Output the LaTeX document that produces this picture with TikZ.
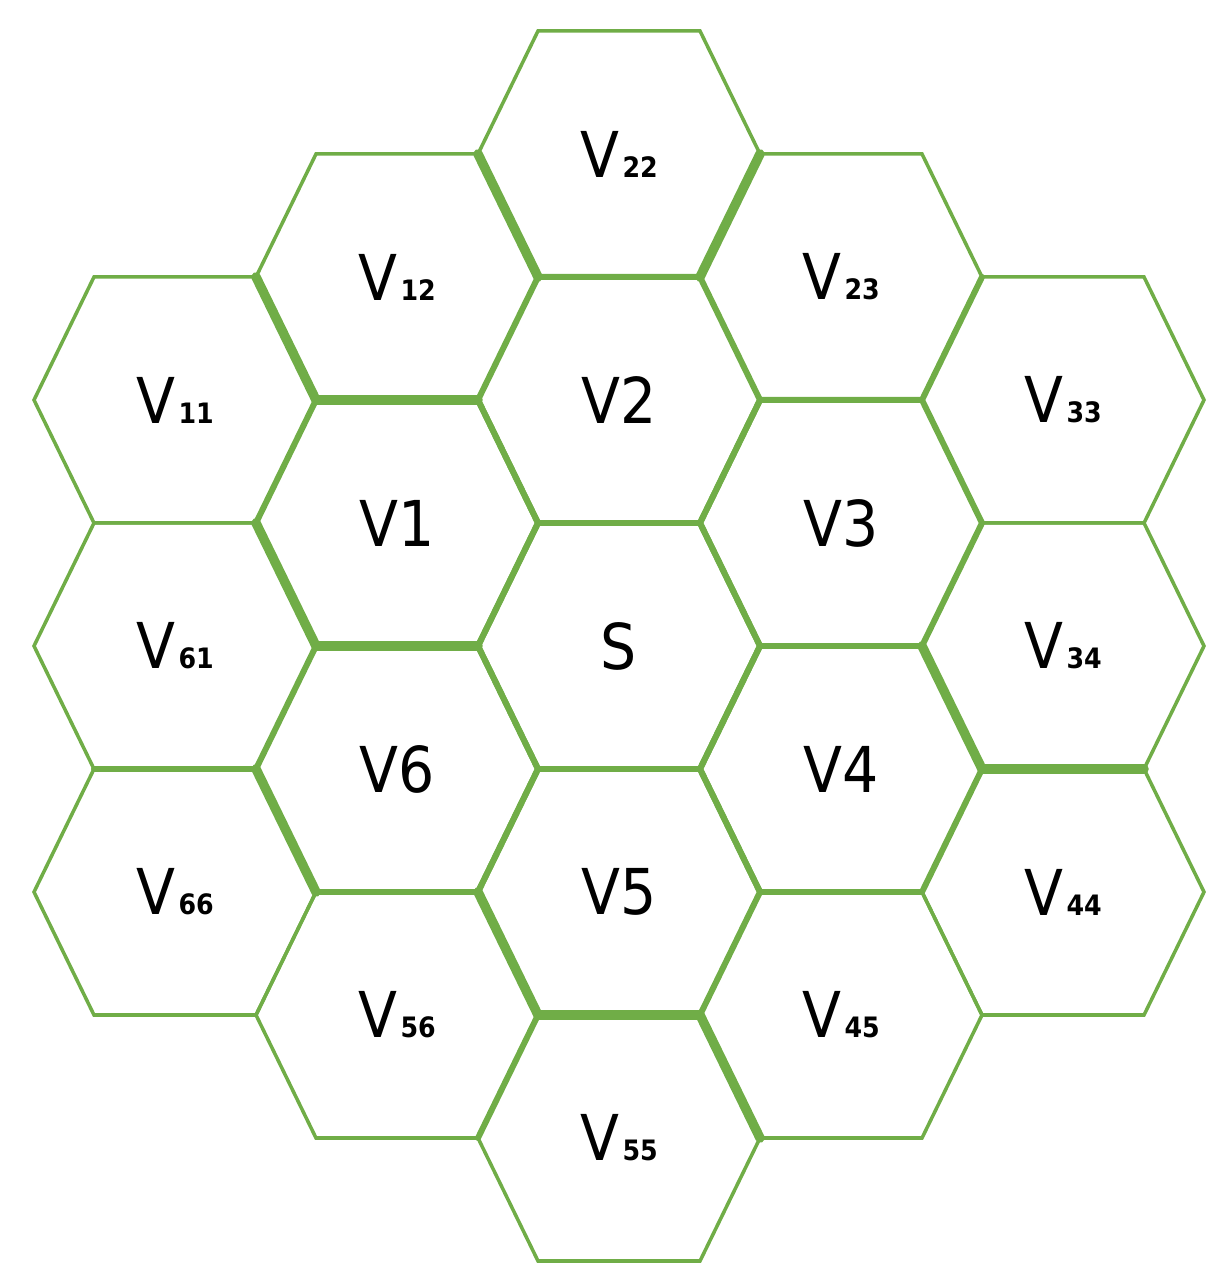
\documentclass[tikz,border=0pt]{standalone}
\usepackage{fontspec}
\setmainfont{DejaVu Sans Condensed}
\definecolor{hexgreen}{RGB}{112,173,71}
\newcommand{\cellsub}[1]{\kern1pt{\fontsize{8}{9}\selectfont\bfseries #1}}

\begin{document}
\begin{tikzpicture}[cell/.style = {font=\fontsize{18}{20}\selectfont, inner sep=0pt},
    rim/.style = {draw=hexgreen, line width=1pt},
    core/.style = {draw=hexgreen, line width=1.7pt},
    heavy/.style = {draw=hexgreen, line width=2.7pt, line cap=round}]
    \useasboundingbox (-6.19,-6.37) rectangle (6.08,6.46);
    % outer ring
    \foreach \n/\c/\k/\t in {V22/0/4/22, V23/1/3/23, V33/2/2/33, V34/2/0/34, V44/2/-2/44, V45/1/-3/45,
        V55/0/-4/55, V56/-1/-3/56, V66/-2/-2/66, V61/-2/0/61, V11/-2/2/11, V12/-1/3/12} {
        \node[cell] (\n) at (\c*2.22, \k*1.23) {V\cellsub{\t}};
        \draw[rim] ([shift={(-1.41,0)}]\n.center) -- ++(0.6,1.23) -- ++(1.62,0) -- ++(0.6,-1.23)
            -- ++(-0.6,-1.23) -- ++(-1.62,0) -- cycle;
    }
    % inner ring and centre
    \foreach \n/\c/\k/\t in {S/0/0/S, V1/-1/1/V1, V2/0/2/V2, V3/1/1/V3, V4/1/-1/V4, V5/0/-2/V5, V6/-1/-1/V6} {
        \node[cell] (\n) at (\c*2.22, \k*1.23) {\t};
        \draw[core] ([shift={(-1.41,0)}]\n.center) -- ++(0.6,1.23) -- ++(1.62,0) -- ++(0.6,-1.23)
            -- ++(-0.6,-1.23) -- ++(-1.62,0) -- cycle;
    }
    % heavier borders
    \foreach \n/\x/\y/\dx/\dy in {V22/-1.41/0/0.6/-1.23, V22/0.81/-1.23/0.6/1.23, V12/-1.41/0/0.6/-1.23,
        V12/-0.81/-1.23/1.62/0, V1/-1.41/0/0.6/-1.23, V1/-0.81/-1.23/1.62/0, V6/-1.41/0/0.6/-1.23,
        V5/-1.41/0/0.6/-1.23, V5/-0.81/-1.23/1.62/0, V45/-1.41/0/0.6/-1.23, V4/0.81/1.23/0.6/-1.23,
        V34/-0.81/-1.23/1.62/0}
        \draw[heavy] ([shift={(\x,\y)}]\n.center) -- ++(\dx,\dy);
    \foreach \n/\x/\y/\dx/\dy in {V61/-0.81/-1.23/1.62/0, V55/-1.41/0/0.6/1.23, V23/0.81/-1.23/0.6/1.23}
        \draw[core, line cap=round] ([shift={(\x,\y)}]\n.center) -- ++(\dx,\dy);
\end{tikzpicture}
\end{document}
